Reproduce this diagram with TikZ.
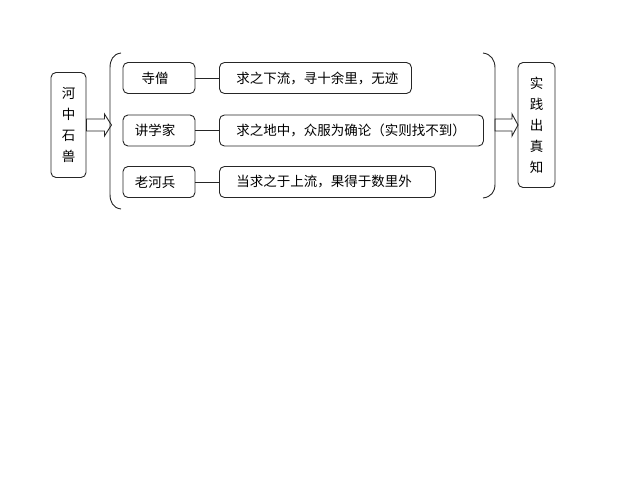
\documentclass[tikz,border=0pt]{standalone}
\usepackage{fontspec}
\setmainfont{Noto Sans CJK SC}
\usetikzlibrary{positioning}
\tikzset{
    stbx/.style={draw, rounded corners=5pt, inner sep=0pt, font=\fontsize{13.5}{21}\selectfont},
    lbx/.style={stbx, minimum width=72pt, minimum height=31pt},
    rbx/.style={stbx, minimum height=31pt, inner xsep=17pt, align=left, anchor=west},
    vbx/.style={stbx, align=center}
}

\begin{document}
\begin{tikzpicture}[x=1pt, y=-1pt, line width=0.9pt, draw=black!85]
    \useasboundingbox (0,0) rectangle (640,480);
    \node[vbx, minimum width=35pt, minimum height=105pt] (hezhong) at (68.5, 125) {河\\中\\石\\兽};
    \node[vbx, minimum width=37pt, minimum height=125pt] (shijian) at (536.5, 125) {实\\践\\出\\真\\知};

    \node[lbx] (siseng) at (159, 78) {寺僧\hspace*{8pt}};
    \node[lbx] (jiangxue) at (159, 130.5) {讲学家\hspace*{8pt}};
    \node[lbx] (laohe) at (159, 182) {老河兵\hspace*{8pt}};

    \node[rbx, text width=158pt] (xialiu) at (219, 78) {求之下流，寻十余里，无迹};
    \node[rbx, text width=230pt] (dizhong) at (219, 130.5) {求之地中，众服为确论（实则找不到）};
    \node[rbx, text width=182pt] (shangliu) at (219, 182) {当求之于上流，果得于数里外};

    \draw
    (siseng) edge (xialiu)
    (jiangxue) edge (dizhong)
    (laohe) edge (shangliu);

    \draw (121, 53) .. controls (113, 54) and (110, 60) .. (110, 68) -- (110, 194)
        .. controls (110, 202) and (113, 208) .. (121, 209);
    \draw (483, 53) .. controls (491, 54) and (495, 60) .. (495, 68) -- (495, 184)
        .. controls (495, 192) and (491, 197) .. (483, 198);

    \draw (hezhong.east) ++(0, -6) -- ++(18, 0) -- ++(0, -5) -- ++(7, 11)
        -- ++(-7, 11) -- ++(0, -5) -- ++(-18, 0) -- cycle;
    \coordinate (rb) at (495, 125);
    \draw (rb) ++(0, -6) -- ++(17, 0) -- ++(0, -5) -- ++(6, 11)
        -- ++(-6, 11) -- ++(0, -5) -- ++(-17, 0) -- cycle;
\end{tikzpicture}
\end{document}
